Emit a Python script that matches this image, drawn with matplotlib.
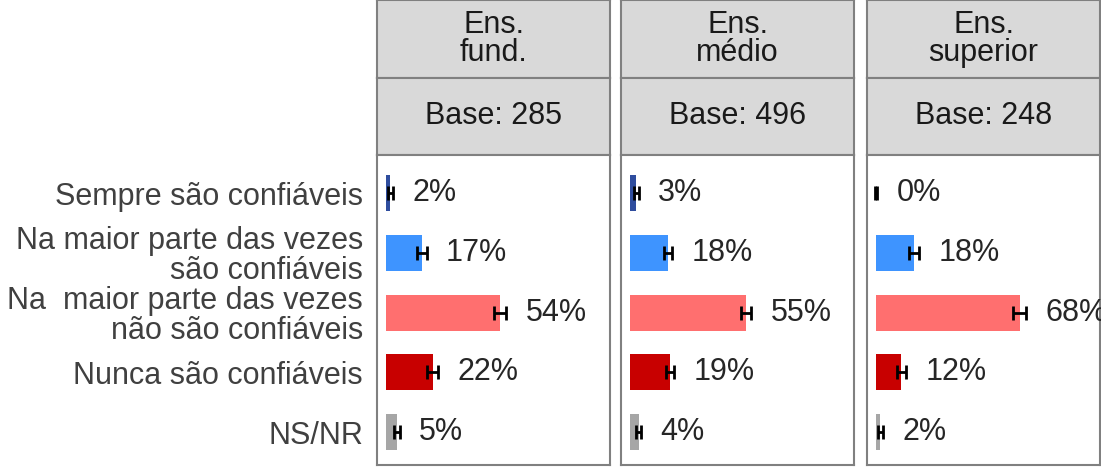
import matplotlib.pyplot as plt

plt.rcParams["font.family"] = ["Liberation Sans", "DejaVu Sans"]

# categories (top to bottom)
categories = [
    "Sempre são confiáveis",
    "Na maior parte das vezes\nsão confiáveis",
    "Na  maior parte das vezes\nnão são confiáveis",
    "Nunca são confiáveis",
    "NS/NR",
]
colors = ["#2F4D9E", "#3E94FF", "#FF6F6F", "#C80000", "#A6A6A6"]

# panels
groups = ["Ens.\nfund.", "Ens.\nmédio", "Ens.\nsuperior"]
bases = [285, 496, 248]

# percentages per panel
fund = [2, 17, 54, 22, 5]
medio = [3, 18, 55, 19, 4]
superior = [0, 18, 68, 12, 2]

# error bar half-widths (percentage points)
fund_err = [1.2, 2.2, 3.0, 2.5, 1.4]
medio_err = [1.1, 1.8, 2.3, 1.9, 1.1]
superior_err = [0.4, 2.4, 3.0, 2.1, 1.1]

values = [fund, medio, superior]
errors = [fund_err, medio_err, superior_err]

W, H = 1101, 468
fig = plt.figure(figsize=(W / 100, H / 100), dpi=100)

lefts = [377, 621, 867]
pw = 233
border = "#808080"
fs = 22

for k in range(3):
    x0 = lefts[k] / W
    w = pw / W
    # header strips
    for (top, bot, txt) in [(0, 78, groups[k]), (78, 155, f"Base: {bases[k]}")]:
        sax = fig.add_axes([x0, (H - bot) / H, w, (bot - top) / H])
        sax.set_xticks([])
        sax.set_yticks([])
        sax.set_facecolor("#D9D9D9")
        for s in sax.spines.values():
            s.set_color(border)
            s.set_linewidth(1.5)
        sax.text(0.5, 0.5, txt, ha="center", va="center", fontsize=fs,
                 color="#1A1A1A", linespacing=0.95, transform=sax.transAxes)

    ax = fig.add_axes([x0, (H - 465) / H, w, 310 / H])
    ypos = list(range(len(categories)))
    ax.barh(ypos, values[k], height=0.6, color=colors)
    ax.errorbar(values[k], ypos, xerr=errors[k], fmt="none", ecolor="black",
                elinewidth=2, capsize=5, capthick=2)
    for y, v, e in zip(ypos, values[k], errors[k]):
        ax.annotate(f"{v}%", xy=(v + e, y), xytext=(14, 0),
                    textcoords="offset points", ha="left", va="center",
                    fontsize=fs, color="#262626", annotation_clip=False)
    ax.set_xlim(-4.3, 106)
    ax.set_ylim(4.55, -0.64)
    ax.set_xticks([])
    ax.set_yticks(ypos)
    if k == 0:
        ax.set_yticklabels(categories, fontsize=fs, color="#404040",
                           linespacing=1.0)
    else:
        ax.set_yticklabels([])
    ax.tick_params(axis="y", length=0, pad=10)
    for s in ax.spines.values():
        s.set_color(border)
        s.set_linewidth(1.5)

fig.savefig("out.png", dpi=100)
